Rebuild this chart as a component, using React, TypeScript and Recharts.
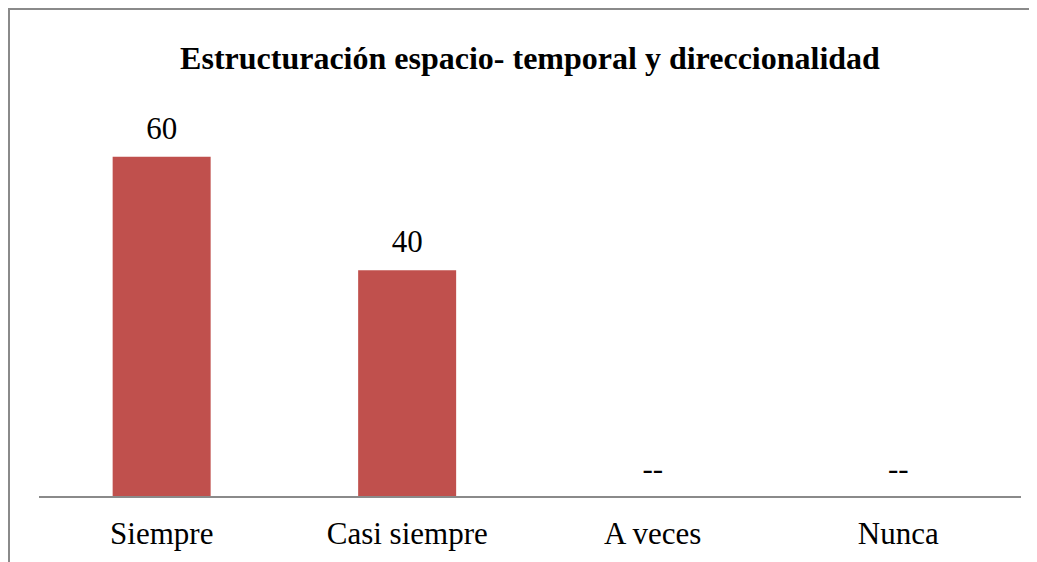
import React from "react";
import { ComposedChart, Bar, Line, XAxis, YAxis, LabelList } from "recharts";

const categories = ["Siempre", "Casi siempre", "A veces", "Nunca"];
const values = [60, 40, 0, 0];
const valueLabels = ["60", "40", "--", "--"];
const chartTitle = "Estructuración espacio- temporal y direccionalidad";

const data = categories.map((c, i) => ({ name: c, value: values[i], label: valueLabels[i] }));

const FONT = '"Liberation Serif", "Times New Roman", serif';

const CatTick = (props: any) => {
  const { x, y, payload } = props;
  return (
    <text x={x} y={y} dy={47} textAnchor="middle" fontFamily={FONT} fontSize={31} fill="#000">
      {payload.value}
    </text>
  );
};

const ValueLabel = (props: any) => {
  const { x, y, index } = props;
  return (
    <text x={x} y={y - 18} textAnchor="middle" fontFamily={FONT} fontSize={31} fill="#000">
      {valueLabels[index]}
    </text>
  );
};

export default function App() {
  return (
    <div
      style={{
        position: "relative",
        width: 1027,
        height: 552,
        borderTop: "2px solid #8a8a8a",
        borderLeft: "2px solid #8a8a8a",
        background: "#fff",
      }}
    >
      <div
        style={{
          position: "absolute",
          left: 29,
          width: 982,
          top: 28,
          textAlign: "center",
          fontFamily: FONT,
          fontWeight: "bold",
          fontSize: 32,
          lineHeight: "40px",
          color: "#000",
          whiteSpace: "nowrap",
        }}
      >
        {chartTitle}
      </div>
      <ComposedChart
        width={1027}
        height={552}
        data={data}
        margin={{ top: 90, right: 16, bottom: 0, left: 29 }}
        barCategoryGap="30%"
      >
        <YAxis hide domain={[0, 70]} />
        <XAxis
          dataKey="name"
          axisLine={{ stroke: "#8a8a8a", strokeWidth: 2 }}
          tickLine={false}
          tickSize={0}
          tickMargin={0}
          height={65}
          tick={<CatTick />}
          interval={0}
        />
        <Bar dataKey="value" fill="#C0504D" isAnimationActive={false} />
        <Line
          dataKey="value"
          stroke="none"
          dot={false}
          activeDot={false}
          legendType="none"
          isAnimationActive={false}
        >
          <LabelList dataKey="label" content={<ValueLabel />} />
        </Line>
      </ComposedChart>
    </div>
  );
}
